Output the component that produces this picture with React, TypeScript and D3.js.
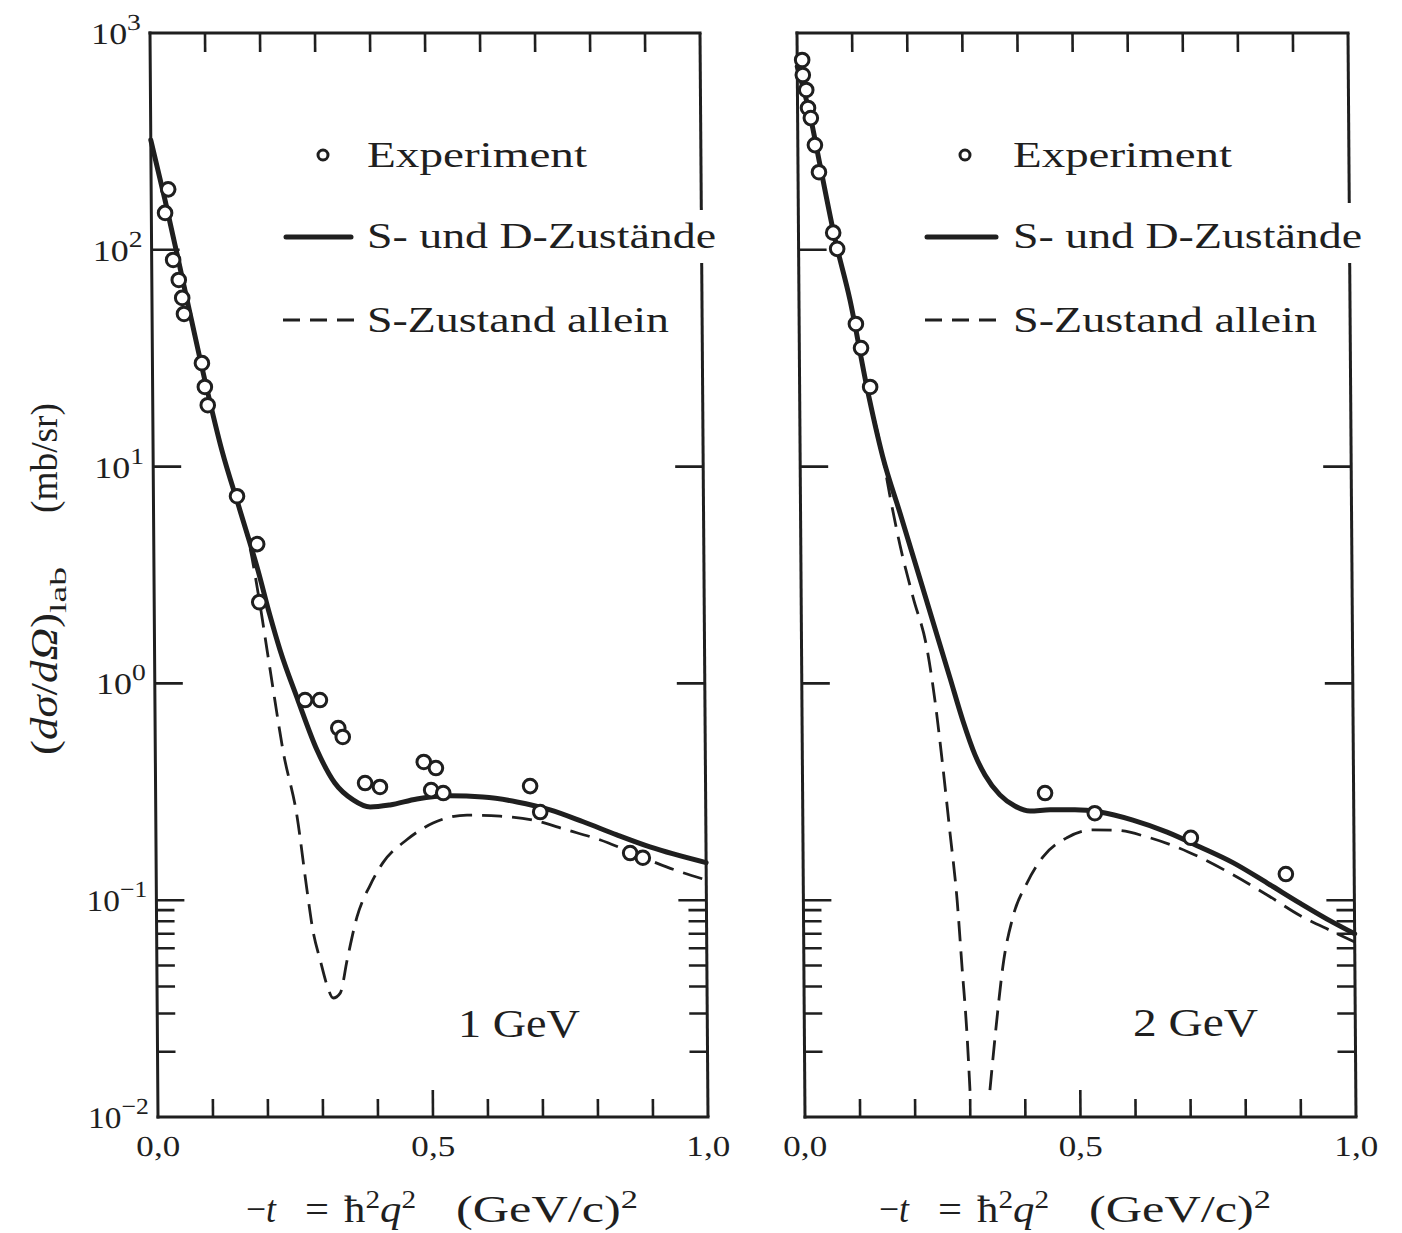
import React from "react";
import * as d3 from "d3";

type Pt = [number, number];

// ---------- data (t = -t in (GeV/c)^2, value in mb/sr) ----------
const yTickExponents = [3, 2, 1, 0, -1, -2];
const yMajorInner = [100, 10, 1, 0.1];
const yMinorTicks = [0.02, 0.03, 0.04, 0.05, 0.06, 0.07, 0.08, 0.09];
const xSmallTicks = [0.1, 0.2, 0.3, 0.4, 0.5, 0.6, 0.7, 0.8, 0.9];
const xTickValues = [0, 0.5, 1];
const xTickLabels = ["0,0", "0,5", "1,0"];
const legendLabels = ["Experiment", "S- und D-Zustände", "S-Zustand allein"];
const panelLabels = ["1 GeV", "2 GeV"];

const exp1GeV: Pt[] = [
  [0.031, 190], [0.025, 148], [0.039, 89.8], [0.049, 72.6], [0.055, 60.0], [0.058, 50.6],
  [0.090, 30.0], [0.095, 23.3], [0.100, 19.2], [0.152, 7.3], [0.188, 4.39], [0.191, 2.37],
  [0.273, 0.838], [0.300, 0.838], [0.333, 0.622], [0.341, 0.566], [0.381, 0.347], [0.408, 0.333],
  [0.488, 0.434], [0.510, 0.407], [0.501, 0.322], [0.523, 0.312], [0.681, 0.336], [0.699, 0.255],
  [0.862, 0.165], [0.885, 0.157],
];
const sd1GeV: Pt[] = [
  [0, 321], [0.025, 170], [0.060, 65.3], [0.095, 25.1], [0.125, 11.9], [0.157, 6.31],
  [0.189, 3.33], [0.210, 2.07], [0.228, 1.43], [0.260, 0.838], [0.294, 0.493], [0.326, 0.347],
  [0.359, 0.290], [0.390, 0.269], [0.426, 0.275], [0.475, 0.293], [0.535, 0.303], [0.595, 0.299],
  [0.657, 0.284], [0.717, 0.261], [0.777, 0.230], [0.838, 0.200], [0.898, 0.176], [1.0, 0.149],
];
const s1GeV: Pt[] = [
  [0, 321], [0.025, 170], [0.060, 65.3], [0.095, 25.1], [0.125, 11.9], [0.157, 6.31],
  [0.175, 4.21], [0.191, 2.43], [0.2045, 1.43], [0.218, 0.838], [0.232, 0.493], [0.257, 0.242],
  [0.274, 0.111], [0.284, 0.0729], [0.297, 0.053], [0.309, 0.0406], [0.320, 0.0354], [0.333, 0.0373],
  [0.346, 0.053], [0.3645, 0.0837], [0.389, 0.1175], [0.4125, 0.149], [0.456, 0.190], [0.504, 0.227],
  [0.566, 0.247], [0.626, 0.244], [0.686, 0.234], [0.747, 0.211], [0.807, 0.190], [0.867, 0.165],
  [0.929, 0.142], [1.0, 0.124],
];

const exp2GeV: Pt[] = [
  [0.009, 751], [0.010, 640], [0.016, 546], [0.019, 451], [0.024, 405], [0.031, 304],
  [0.038, 228], [0.063, 120], [0.070, 101], [0.103, 45.5], [0.112, 35.2], [0.128, 23.3],
  [0.440, 0.312], [0.530, 0.252], [0.704, 0.194], [0.876, 0.132],
];
const sd2GeV: Pt[] = [
  [0, 700], [0.0225, 419], [0.040, 246], [0.066, 113], [0.0926, 58.7], [0.122, 23.3],
  [0.150, 11.1], [0.1805, 6.11], [0.2106, 3.37], [0.239, 1.92], [0.269, 1.06], [0.292, 0.671],
  [0.3134, 0.468], [0.3312, 0.378], [0.358, 0.306], [0.385, 0.272], [0.4125, 0.258], [0.449, 0.261],
  [0.494, 0.261], [0.539, 0.255], [0.599, 0.234], [0.661, 0.206], [0.7205, 0.176], [0.780, 0.149],
  [0.842, 0.120], [0.901, 0.097], [0.961, 0.079], [1.0, 0.070],
];
const s2GeVLeft: Pt[] = [
  [0, 700], [0.0225, 419], [0.040, 246], [0.066, 113], [0.0926, 58.7], [0.122, 23.3],
  [0.150, 11.1], [0.1625, 7.31], [0.180, 4.35], [0.203, 2.50], [0.228, 1.43], [0.242, 0.812],
  [0.253, 0.458], [0.267, 0.204], [0.279, 0.100], [0.287, 0.0492], [0.295, 0.0244], [0.300, 0.0129],
];
const s2GeVRight: Pt[] = [
  [0.336, 0.0133], [0.350, 0.0289], [0.361, 0.0492], [0.380, 0.0837], [0.406, 0.120], [0.435, 0.158],
  [0.479, 0.194], [0.5265, 0.211], [0.570, 0.210], [0.624, 0.196], [0.699, 0.167], [0.780, 0.131],
  [0.841, 0.106], [0.901, 0.085], [0.961, 0.0715], [1.0, 0.0641],
];

// ---------- layout ----------
const FONT = "'Liberation Serif', 'Times New Roman', Times, serif";
const INK = "#1f1f1f";
const TOP = 33;
const BOTTOM = 1117;
const SKEW = 0.4228; // scan skew of the original figure

const yScale = d3.scaleLog().domain([0.01, 1000]).range([BOTTOM, TOP]);

type PanelProps = {
  x0: number;
  x1: number;
  gapTop: number;
  gapBottom: number;
  experiment: Pt[];
  full: Pt[];
  sOnly: Pt[][];
  showYLabels: boolean;
};

function Panel({ x0, x1, gapTop, gapBottom, experiment, full, sOnly, showYLabels }: PanelProps) {
  const x = d3.scaleLinear().domain([0, 1]).range([x0, x1]);
  const line = d3
    .line<Pt>()
    .x((d) => x(d[0]))
    .y((d) => yScale(d[1]))
    .curve(d3.curveMonotoneX);
  const sw = 3;
  return (
    <g transform={`translate(0,${TOP}) skewX(${SKEW}) translate(0,${-TOP})`}>
      {/* frame */}
      <g stroke={INK} strokeWidth={sw} strokeLinecap="square" fill="none">
        <line x1={x0} y1={TOP} x2={x1} y2={TOP} />
        <line x1={x0} y1={TOP} x2={x0} y2={BOTTOM} />
        <line x1={x0} y1={BOTTOM} x2={x1} y2={BOTTOM} />
        <line x1={x1} y1={TOP} x2={x1} y2={gapTop} strokeLinecap="butt" />
        <line x1={x1} y1={gapBottom} x2={x1} y2={BOTTOM} strokeLinecap="butt" />
      </g>
      {/* ticks */}
      <g stroke={INK} strokeWidth={2.6}>
        {xSmallTicks.map((t) => (
          <line key={"tt" + t} x1={x(t)} y1={TOP} x2={x(t)} y2={TOP + 19} />
        ))}
        {xSmallTicks.map((t) => (
          <line key={"bt" + t} x1={x(t)} y1={BOTTOM} x2={x(t)} y2={BOTTOM - (t === 0.5 ? 27 : 18)} />
        ))}
        {yMajorInner.map((v) => (
          <line key={"lm" + v} x1={x0} y1={yScale(v)} x2={x0 + 28} y2={yScale(v)} />
        ))}
        {yMajorInner
          .filter((v) => yScale(v) < gapTop || yScale(v) > gapBottom)
          .map((v) => (
            <line key={"rm" + v} x1={x1 - 28} y1={yScale(v)} x2={x1} y2={yScale(v)} />
          ))}
        {yMinorTicks.map((v) => (
          <line key={"ln" + v} x1={x0} y1={yScale(v)} x2={x0 + 18} y2={yScale(v)} />
        ))}
        {yMinorTicks.map((v) => (
          <line key={"rn" + v} x1={x1 - 18} y1={yScale(v)} x2={x1} y2={yScale(v)} />
        ))}
      </g>
      {/* x tick labels */}
      {xTickValues.map((t, i) => (
        <text
          key={"xl" + t}
          x={x(t)}
          y={1156}
          textAnchor="middle"
          fontFamily={FONT}
          fontSize={29}
          fill={INK}
          textLength={44}
          lengthAdjust="spacingAndGlyphs"
        >
          {xTickLabels[i]}
        </text>
      ))}
      {/* y tick labels */}
      {showYLabels &&
        yTickExponents.map((e) => (
          <text
            key={"yl" + e}
            x={x0 - 9}
            y={yScale(Math.pow(10, e)) + 11}
            textAnchor="end"
            fontFamily={FONT}
            fontSize={30}
            fill={INK}
            textLength={e < 0 ? 61 : 50}
            lengthAdjust="spacingAndGlyphs"
          >
            10
            <tspan dy={-14} fontSize={23}>
              {e < 0 ? "\u2212" + Math.abs(e) : String(e)}
            </tspan>
          </text>
        ))}
      {/* curves */}
      {sOnly.map((seg, i) => (
        <path
          key={"s" + i}
          d={line(seg) || ""}
          fill="none"
          stroke={INK}
          strokeWidth={2.8}
          strokeDasharray="20 10"
        />
      ))}
      <path d={line(full) || ""} fill="none" stroke={INK} strokeWidth={5} strokeLinejoin="round" strokeLinecap="round" />
      {/* experiment points */}
      {experiment.map((d, i) => (
        <circle key={"e" + i} cx={x(d[0])} cy={yScale(d[1])} r={6.8} fill="#fff" stroke={INK} strokeWidth={3} />
      ))}
    </g>
  );
}

type LegendProps = {
  cx: number;
  textX: number;
  lineX: [number, number];
  dashX: [number, number];
  widths: number[];
};

function Legend({ cx, textX, lineX, dashX, widths }: LegendProps) {
  const baselines = [167, 248, 332];
  return (
    <g>
      <circle cx={cx} cy={155} r={5} fill="#fff" stroke={INK} strokeWidth={3} />
      <line x1={lineX[0]} y1={237} x2={lineX[1]} y2={237} stroke={INK} strokeWidth={5} strokeLinecap="round" />
      <line x1={dashX[0]} y1={320} x2={dashX[1]} y2={320} stroke={INK} strokeWidth={3} strokeDasharray="17 10" />
      {legendLabels.map((s, i) => (
        <text
          key={s}
          x={textX}
          y={baselines[i]}
          fontFamily={FONT}
          fontSize={35}
          fill={INK}
          textLength={widths[i]}
          lengthAdjust="spacingAndGlyphs"
        >
          {s}
        </text>
      ))}
    </g>
  );
}

function XTitle({ dx }: { dx: number }) {
  const common = { fontFamily: FONT, fontSize: 38, fill: INK, y: 1222 } as const;
  return (
    <g>
      <text {...common} x={246 + dx} textLength={30} lengthAdjust="spacingAndGlyphs">
        {"\u2212"}
        <tspan fontStyle="italic">t</tspan>
      </text>
      <text {...common} x={305 + dx} textLength={24} lengthAdjust="spacingAndGlyphs">
        =
      </text>
      <text {...common} x={344 + dx} textLength={72} lengthAdjust="spacingAndGlyphs">
        {"\u0127"}
        <tspan dy={-14} fontSize={26}>2</tspan>
        <tspan dy={14} fontStyle="italic">q</tspan>
        <tspan dy={-14} fontSize={26}>2</tspan>
      </text>
      <text {...common} x={456 + dx} textLength={182} lengthAdjust="spacingAndGlyphs">
        (GeV/c)
        <tspan dy={-14} fontSize={26}>2</tspan>
      </text>
    </g>
  );
}

export default function App() {
  return (
    <svg
      width={1402}
      height={1233}
      viewBox="0 0 1402 1233"
      style={{ position: "absolute", left: 0, top: 0, background: "#fff" }}
    >
      <rect x={0} y={0} width={1402} height={1233} fill="#fff" />
      <Panel
        x0={150}
        x1={700}
        gapTop={210}
        gapBottom={263}
        experiment={exp1GeV}
        full={sd1GeV}
        sOnly={[s1GeV]}
        showYLabels={true}
      />
      <Panel
        x0={797}
        x1={1348}
        gapTop={203}
        gapBottom={263}
        experiment={exp2GeV}
        full={sd2GeV}
        sOnly={[s2GeVLeft, s2GeVRight]}
        showYLabels={false}
      />
      <Legend cx={323} textX={367} lineX={[286, 351]} dashX={[283, 355]} widths={[220, 349, 302]} />
      <Legend cx={965} textX={1013} lineX={[927, 996]} dashX={[925, 997]} widths={[219, 349, 304]} />
      <text x={458} y={1037} fontFamily={FONT} fontSize={40} fill={INK} textLength={122} lengthAdjust="spacingAndGlyphs">
        {panelLabels[0]}
      </text>
      <text x={1133} y={1036} fontFamily={FONT} fontSize={40} fill={INK} textLength={125} lengthAdjust="spacingAndGlyphs">
        {panelLabels[1]}
      </text>
      <XTitle dx={0} />
      <XTitle dx={633} />
      {/* y axis title, rotated */}
      <g fontFamily={FONT} fill={INK}>
        <text transform="translate(57,755) rotate(-90)" fontSize={38} textLength={142} lengthAdjust="spacingAndGlyphs">
          (<tspan fontStyle="italic">d{"\u03C3"}</tspan>/<tspan fontStyle="italic">d{"\u03A9"}</tspan>)
        </text>
        <text transform="translate(66,613) rotate(-90)" fontSize={24} textLength={46} lengthAdjust="spacingAndGlyphs">
          lab
        </text>
        <text transform="translate(57,513) rotate(-90)" fontSize={38} textLength={110} lengthAdjust="spacingAndGlyphs">
          (mb/sr)
        </text>
      </g>
    </svg>
  );
}
